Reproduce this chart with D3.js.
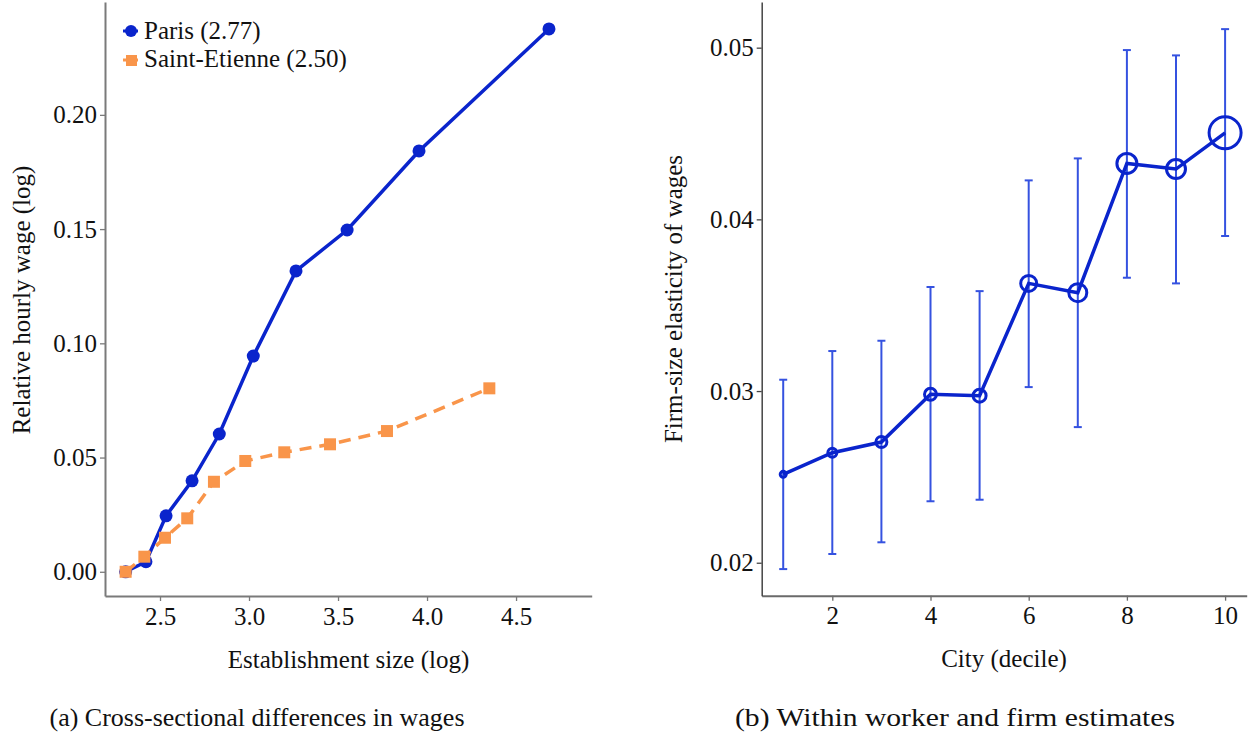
<!DOCTYPE html>
<html>
<head>
<meta charset="utf-8">
<script src="https://cdn.jsdelivr.net/npm/d3@7"></script>
<style>
    body { margin: 0; background: #fff; }
    svg text { font-family: "Liberation Serif", "DejaVu Serif", "Tinos", "Times New Roman", serif; fill: #111; }
</style>
</head>
<body>
<div class="container"></div>
<script>
// panel (a): establishment size vs relative wage
const parisX = [2.307, 2.421, 2.534, 2.68, 2.833, 3.024, 3.264, 3.551, 3.955, 4.685];
const parisY = [0.000, 0.0044, 0.0245, 0.0398, 0.0603, 0.0944, 0.1317, 0.1496, 0.1842, 0.2376];
const stEtienneX = [2.307, 2.412, 2.528, 2.653, 2.803, 2.979, 3.198, 3.455, 3.775, 4.35];
const stEtienneY = [0.000, 0.0066, 0.0149, 0.0234, 0.0394, 0.0485, 0.0523, 0.0558, 0.0616, 0.0803];
const sizeTicks = [2.5, 3.0, 3.5, 4.0, 4.5];
const wageTicks = [0.00, 0.05, 0.10, 0.15, 0.20];

// panel (b): firm-size elasticity by city decile
const deciles = [1, 2, 3, 4, 5, 6, 7, 8, 9, 10];
const elasticity = [0.02515, 0.02641, 0.02703, 0.02981, 0.02973, 0.03627, 0.03573, 0.04326, 0.04293, 0.04504];
const ciLow = [0.01963, 0.02051, 0.02119, 0.02358, 0.02367, 0.03023, 0.0279, 0.0366, 0.03627, 0.03903];
const ciHigh = [0.03066, 0.03233, 0.03293, 0.03606, 0.03582, 0.04227, 0.04355, 0.04986, 0.04955, 0.05108];
const decileWeight = [9, 20, 30, 36, 42, 64, 81, 100, 90, 256];
const decileTicks = [2, 4, 6, 8, 10];
const elasticityTicks = [0.02, 0.03, 0.04, 0.05];

const width = 1253;
const height = 740;
const blue = '#0a24cc';
const orange = '#f9954a';
const serif = '"Liberation Serif", "DejaVu Serif", "Tinos", "Times New Roman", serif';

const svg = d3.select('.container').append('svg').attr('width', width).attr('height', height)
    .attr('font-family', serif);

function styleAxis(g, color, w)
{
    g.attr('font-family', serif);
    g.select('.domain').attr('stroke', color).attr('stroke-width', w);
    g.selectAll('.tick line').attr('stroke', color).attr('stroke-width', 1.3);
    g.selectAll('.tick text').attr('font-size', 25).attr('fill', '#111');
}

// ---------- panel (a)
const xA = d3.scaleLinear().domain([2.191, 4.925]).range([105, 591.7]);
const yA = d3.scaleLinear().domain([-0.0106, 0.2494]).range([596, 2]);

svg.append('g').attr('transform', 'translate(0,596)')
    .call(d3.axisBottom(xA).tickValues(sizeTicks).tickFormat(d3.format('.1f')).tickSize(5).tickSizeOuter(0).tickPadding(6))
    .call(g => styleAxis(g, '#7a7a7a', 2));

svg.append('g').attr('transform', 'translate(105,0)')
    .call(d3.axisLeft(yA).tickValues(wageTicks).tickFormat(d3.format('.2f')).tickSize(5).tickSizeOuter(0).tickPadding(3))
    .call(g => styleAxis(g, '#7a7a7a', 2));

const paris = parisX.map((x, i) => [x, parisY[i]]);
const stEtienne = stEtienneX.map((x, i) => [x, stEtienneY[i]]);
const lineA = d3.line().x(d => xA(d[0])).y(d => yA(d[1]));

svg.append('path').datum(paris).attr('d', lineA)
    .attr('fill', 'none').attr('stroke', blue).attr('stroke-width', 3.5);
svg.selectAll('.paris-dot').data(paris).enter().append('circle')
    .attr('cx', d => xA(d[0])).attr('cy', d => yA(d[1])).attr('r', 6.5).attr('fill', blue);

svg.append('path').datum(stEtienne).attr('d', lineA)
    .attr('fill', 'none').attr('stroke', orange).attr('stroke-width', 3.5).attr('stroke-dasharray', '12,8');
svg.selectAll('.st-dot').data(stEtienne).enter().append('rect')
    .attr('x', d => xA(d[0]) - 6).attr('y', d => yA(d[1]) - 6).attr('width', 12).attr('height', 12).attr('fill', orange);

// legend
const legend = svg.append('g');
legend.append('line').attr('x1', 123).attr('x2', 138).attr('y1', 31).attr('y2', 31).attr('stroke', blue).attr('stroke-width', 3);
legend.append('circle').attr('cx', 131).attr('cy', 31).attr('r', 6).attr('fill', blue);
legend.append('text').attr('x', 144).attr('y', 39).attr('font-size', 25).text('Paris (2.77)');
legend.append('line').attr('x1', 123).attr('x2', 138).attr('y1', 60).attr('y2', 60).attr('stroke', orange).attr('stroke-width', 3).attr('stroke-dasharray', '5,2');
legend.append('rect').attr('x', 126).attr('y', 55).attr('width', 11).attr('height', 11).attr('fill', orange);
legend.append('text').attr('x', 144).attr('y', 67).attr('font-size', 25).text('Saint-Etienne (2.50)');

svg.append('text').attr('x', 348.5).attr('y', 668).attr('text-anchor', 'middle').attr('font-size', 25)
    .text('Establishment size (log)');
svg.append('text').attr('transform', 'translate(30,300) rotate(-90)').attr('text-anchor', 'middle').attr('font-size', 25)
    .text('Relative hourly wage (log)');

// ---------- panel (b)
const xB = d3.scaleLinear().domain([0.562, 10.44]).range([761.7, 1246.7]);
const yB = d3.scaleLinear().domain([0.01808, 0.05266]).range([595.7, 2]);
const rB = d3.scaleSqrt().domain([0, 256]).range([0, 16]);

svg.append('g').attr('transform', 'translate(0,595.7)')
    .call(d3.axisBottom(xB).tickValues(decileTicks).tickFormat(d3.format('d')).tickSize(5).tickSizeOuter(0).tickPadding(6))
    .call(g => styleAxis(g, '#6a6a6a', 2));

svg.append('g').attr('transform', 'translate(761.7,0)')
    .call(d3.axisLeft(yB).tickValues(elasticityTicks).tickFormat(d3.format('.2f')).tickSize(5).tickSizeOuter(0).tickPadding(3))
    .call(g => styleAxis(g, '#444', 1.5));

const points = deciles.map((d, i) => ({ d: d, v: elasticity[i], lo: ciLow[i], hi: ciHigh[i], w: decileWeight[i] }));

const bars = svg.append('g').attr('stroke', '#3552e0').attr('stroke-width', 2);
bars.selectAll('.ci').data(points).enter().append('line')
    .attr('x1', p => xB(p.d)).attr('x2', p => xB(p.d)).attr('y1', p => yB(p.lo)).attr('y2', p => yB(p.hi));
bars.selectAll('.cap-hi').data(points).enter().append('line')
    .attr('x1', p => xB(p.d) - 4).attr('x2', p => xB(p.d) + 4).attr('y1', p => yB(p.hi)).attr('y2', p => yB(p.hi));
bars.selectAll('.cap-lo').data(points).enter().append('line')
    .attr('x1', p => xB(p.d) - 4).attr('x2', p => xB(p.d) + 4).attr('y1', p => yB(p.lo)).attr('y2', p => yB(p.lo));

svg.append('path').datum(points).attr('d', d3.line().x(p => xB(p.d)).y(p => yB(p.v)))
    .attr('fill', 'none').attr('stroke', blue).attr('stroke-width', 3.5);
svg.selectAll('.decile-dot').data(points).enter().append('circle')
    .attr('cx', p => xB(p.d)).attr('cy', p => yB(p.v)).attr('r', p => rB(p.w))
    .attr('fill', 'none').attr('stroke', blue).attr('stroke-width', 3);

svg.append('text').attr('x', 1004).attr('y', 667).attr('text-anchor', 'middle').attr('font-size', 25)
    .text('City (decile)');
svg.append('text').attr('transform', 'translate(682,299) rotate(-90)').attr('text-anchor', 'middle').attr('font-size', 25)
    .text('Firm-size elasticity of wages');

// captions
svg.append('text').attr('x', 257).attr('y', 726).attr('text-anchor', 'middle').attr('font-size', 26)
    .attr('textLength', 415).attr('lengthAdjust', 'spacingAndGlyphs')
    .text('(a) Cross-sectional differences in wages');
svg.append('text').attr('x', 955).attr('y', 726).attr('text-anchor', 'middle').attr('font-size', 26)
    .attr('textLength', 440).attr('lengthAdjust', 'spacingAndGlyphs')
    .text('(b) Within worker and firm estimates');
</script>
</body>
</html>
